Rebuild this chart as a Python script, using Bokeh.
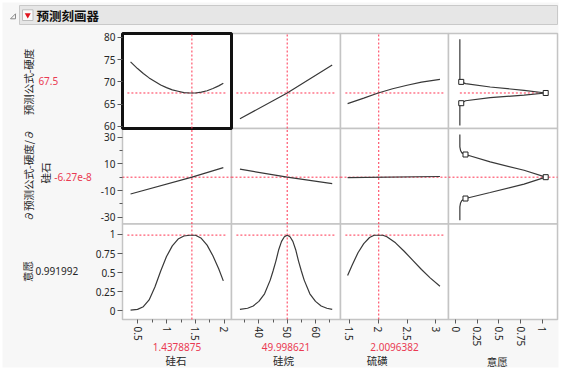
from bokeh.plotting import figure
from bokeh.models import Range1d, LinearAxis, FixedTicker, PrintfTickFormatter
from bokeh.core.properties import value
from bokeh.embed import file_html
from bokeh.resources import INLINE

# ---------------- data ----------------
title_text = "预测刻画器"
factor_names = ["硅石", "硅烷", "硫磺"]
factor_values = [1.4378875, 49.998621, 2.0096382]
factor_value_labels = ["1.4378875", "49.998621", "2.0096382"]
desir_axis_name = "意愿"

resp_name = "预测公式-硬度"
resp_value = 67.5
resp_value_label = "67.5"
deriv_name_1 = "∂预测公式-硬度/∂"
deriv_name_2 = "硅石"
deriv_value = -6.27e-8
deriv_value_label = "-6.27e-8"
desir_name = "意愿"
desir_value = 0.991992
desir_value_label = "0.991992"

# axis limits and ticks
x_limits = [(0.241, 2.121), (30.32, 68.83), (1.347, 3.218), (-0.081, 1.176)]
x_ticks = [[0.5, 1, 1.5, 2], [40, 50, 60], [1.5, 2, 2.5, 3], [0, 0.25, 0.5, 0.75, 1]]
x_minor = [[0.75, 1.25, 1.75], [35, 45, 55, 65], [], []]
y_limits = [(59.5, 80.9), (-35.1, 36.5), (-0.118, 1.138)]
y_ticks = [[60, 65, 70, 75, 80], [-30, -10, 10, 30], [0, 0.25, 0.5, 0.75, 1]]
y_minor = [[], [-20, 0, 20], []]

# column 1: 硅石
si_x = [0.38, 0.5, 0.6, 0.7, 0.8, 0.9, 1.0, 1.1, 1.2, 1.3, 1.4, 1.5, 1.6, 1.7, 1.8, 1.9, 1.98]
si_hard = [74.5, 73.0, 71.9, 70.9, 70.1, 69.3, 68.7, 68.2, 67.9, 67.6, 67.5, 67.5, 67.7, 68.0, 68.5, 69.1, 69.7]
si_desir = [0.005, 0.015, 0.05, 0.14, 0.31, 0.52, 0.71, 0.85, 0.94, 0.98, 0.99, 0.99, 0.95, 0.86, 0.72, 0.55, 0.39]
si_dx = [0.38, 1.44, 1.98]
si_deriv = [-12.6, 0.0, 7.2]

# column 2: 硅烷
sl_hx = [33.3, 50.0, 65.9]
sl_hard = [61.7, 67.5, 73.8]
sl_deriv = [6.0, 0.0, -4.8]
sl_x = [33.3, 36, 38, 40, 42, 44, 45, 46, 47, 48, 49, 50, 51, 52, 53, 54, 55, 56, 58, 60, 62, 64, 65.9]
sl_desir = [0.015, 0.03, 0.06, 0.12, 0.22, 0.40, 0.52, 0.65, 0.80, 0.91, 0.97, 0.99, 0.97, 0.91, 0.80, 0.65, 0.52, 0.40, 0.22, 0.12, 0.06, 0.03, 0.015]

# column 3: 硫磺
su_hx = [1.47, 1.75, 2.0, 2.25, 2.5, 2.75, 3.07]
su_hard = [65.1, 66.35, 67.5, 68.45, 69.25, 69.95, 70.55]
su_dx = [1.47, 3.07]
su_deriv = [-0.3, 0.5]
su_x = [1.47, 1.55, 1.65, 1.75, 1.85, 1.93, 2.0, 2.08, 2.15, 2.3, 2.45, 2.6, 2.75, 2.9, 3.07]
su_desir = [0.46, 0.60, 0.76, 0.88, 0.96, 0.99, 0.99, 0.99, 0.97, 0.89, 0.78, 0.66, 0.54, 0.43, 0.32]

# column 4: desirability function
df_d = [0.05, 0.05, 0.066, 0.115, 0.40, 0.79, 1.04, 0.79, 0.40, 0.115, 0.066, 0.05, 0.05]
df_hard = [79.6, 70.5, 70.0, 69.6, 68.85, 68.1, 67.5, 67.0, 66.45, 65.75, 65.2, 64.7, 60.2]
df_pt_d = [0.066, 1.04, 0.066]
df_pt_hard = [70.0, 67.5, 65.2]
dd_d = [0.05, 0.05, 0.058, 0.073, 0.115, 0.40, 0.79, 1.04, 0.79, 0.40, 0.115, 0.073, 0.058, 0.05, 0.05]
dd_deriv = [32.0, 22.7, 20.0, 18.2, 17.0, 11.5, 5.2, 0.0, -5.2, -11.5, -16.0, -17.5, -19.3, -22.3, -32.3]
dd_pt_d = [0.115, 1.04, 0.115]
dd_pt_deriv = [17.0, 0.0, -16.0]

# ---------------- style / layout ----------------
BG = "#f7f7f7"
PANEL_LINE = "#c4c4c4"
CURVE = "#383838"
RED = "#ff3350"
RED_TXT = "#ea3a52"
TXT = "#262626"
NUM_FONT = "Noto Sans"
CJK_FONT = "Noto Sans CJK SC"
NUM_SIZE = "10px"
CJK_SIZE = "10.5px"
VERT = 1.5707963

W, H = 560, 368                      # canvas; default ranges are canvas pixels (origin bottom-left)
col_px = [(122, 231), (231, 340), (340, 448), (448, 557)]
row_px = [(240, 335), (144.5, 240), (49, 144.5)]
AXIS_X = 122
AXIS_Y = 49


def ext_range(lo, hi, a, b, total):
    s = (hi - lo) / (b - a)
    start = lo - a * s
    return Range1d(start, start + total * s)


p = figure(width=W, height=H, x_range=Range1d(0, W), y_range=Range1d(0, H),
           x_axis_type=None, y_axis_type=None,
           toolbar_location=None, output_backend="svg", min_border=0,
           background_fill_color="white", border_fill_color="white", outline_line_color=None)
p.extra_x_ranges = {f"c{j}": ext_range(*x_limits[j], *col_px[j], W) for j in range(4)}
p.extra_y_ranges = {f"r{i}": ext_range(*y_limits[i], *row_px[i], H) for i in range(3)}


def rn(i, j):
    return dict(x_range_name=f"c{j}", y_range_name=f"r{i}")


def text(x, y, s, font, size, color, angle=0.0, align="center", bold=False):
    p.text(x=[x], y=[y], text=[s], text_font=value(font), text_font_size=value(size),
           text_color=color, text_align=align, text_baseline="middle", angle=angle,
           text_font_style="bold" if bold else "normal")


# page background and header
p.quad(left=[2], right=[558], bottom=[1], top=[366], fill_color=BG, line_color=None)
p.quad(left=[19], right=[557], bottom=[344], top=[363], fill_color="#e6e6e6", line_color="#c9c9c9")
p.quad(left=[22], right=[32.5], bottom=[348], top=[358.7], fill_color="#fafafa", line_color="#bcbcbc")
p.scatter(x=[27.25], y=[353.4], marker="inverted_triangle", size=6, fill_color="#e0141e", line_color=None)
p.patch(x=[10, 15, 15], y=[349.7, 349.7, 354.7], fill_color=None, line_color="#8a8a8a", line_width=1)
text(36, 353.5, title_text, CJK_FONT, "12.5px", "#111111", align="left", bold=True)

# panel backgrounds and borders
for i in range(3):
    for j in range(4):
        p.quad(left=[x_limits[j][0]], right=[x_limits[j][1]],
               bottom=[y_limits[i][0]], top=[y_limits[i][1]],
               fill_color="white", line_color=PANEL_LINE, line_width=1.5, **rn(i, j))
p.quad(left=[x_limits[0][0]], right=[x_limits[0][1]],
       bottom=[y_limits[0][0]], top=[y_limits[0][1]],
       fill_color=None, line_color="#111111", line_width=3, **rn(0, 0))


def red_seg(i, j, x0, y0, x1, y1):
    p.segment(x0=[x0], y0=[y0], x1=[x1], y1=[y1], line_color=RED,
              line_dash="2 2", line_width=1, **rn(i, j))


def curve(i, j, xs, ys):
    p.line(xs, ys, line_color=CURVE, line_width=1.2, **rn(i, j))


hard_data = [(si_x, si_hard), (sl_hx, sl_hard), (su_hx, su_hard)]
deriv_data = [(si_dx, si_deriv), (sl_hx, sl_deriv), (su_dx, su_deriv)]
desir_data = [(si_x, si_desir), (sl_x, sl_desir), (su_x, su_desir)]

for j in range(3):
    lo, hi = x_limits[j]
    pad = 0.045 * (hi - lo)
    for i in range(3):
        red_seg(i, j, factor_values[j], y_limits[i][0], factor_values[j], y_limits[i][1])
    red_seg(0, j, lo + pad, resp_value, hi - pad, resp_value)
    red_seg(1, j, lo, deriv_value, hi, deriv_value)
    red_seg(2, j, lo + pad, desir_value, hi - pad, desir_value)
    curve(0, j, *hard_data[j])
    curve(1, j, *deriv_data[j])
    curve(2, j, *desir_data[j])

red_seg(0, 3, min(df_d), resp_value, max(df_d), resp_value)
red_seg(1, 3, x_limits[3][0], deriv_value, x_limits[3][1], deriv_value)
curve(0, 3, df_d, df_hard)
curve(1, 3, dd_d, dd_deriv)
p.scatter(df_pt_d, df_pt_hard, marker="square", size=5, fill_color="white",
          line_color="#222222", line_width=1, **rn(0, 3))
p.scatter(dd_pt_d, dd_pt_deriv, marker="square", size=5, fill_color="white",
          line_color="#222222", line_width=1, **rn(1, 3))


def style_axis(ax, side):
    ax.axis_line_color = None
    ax.major_tick_line_color = "#5a5a5a"
    ax.minor_tick_line_color = "#5a5a5a"
    ax.major_tick_in = 0
    ax.minor_tick_in = 0
    ax.minor_tick_out = 3
    ax.major_label_text_font = NUM_FONT
    ax.major_label_text_font_size = NUM_SIZE
    ax.major_label_text_color = TXT
    if side == "left":
        ax.major_tick_out = 5
        ax.major_label_standoff = 2
    else:
        ax.major_tick_out = 4
        ax.major_label_standoff = 3
        ax.major_label_orientation = "vertical"


for i in range(3):
    ax = LinearAxis(y_range_name=f"r{i}", fixed_location=AXIS_X, bounds=y_limits[i],
                    ticker=FixedTicker(ticks=y_ticks[i], minor_ticks=y_minor[i]),
                    formatter=PrintfTickFormatter(format="%g"))
    style_axis(ax, "left")
    p.add_layout(ax, "left")
for j in range(4):
    ax = LinearAxis(x_range_name=f"c{j}", fixed_location=AXIS_Y, bounds=x_limits[j],
                    ticker=FixedTicker(ticks=x_ticks[j], minor_ticks=x_minor[j]),
                    formatter=PrintfTickFormatter(format="%g"))
    style_axis(ax, "below")
    p.add_layout(ax, "below")

# row labels
text(28, 286.5, resp_name, CJK_FONT, CJK_SIZE, TXT, angle=VERT)
text(47.8, 287.5, resp_value_label, NUM_FONT, NUM_SIZE, RED_TXT)
text(28, 193, deriv_name_1, CJK_FONT, CJK_SIZE, TXT, angle=VERT)
text(45, 195.5, deriv_name_2, CJK_FONT, CJK_SIZE, TXT, angle=VERT)
text(72.5, 192, deriv_value_label, NUM_FONT, NUM_SIZE, RED_TXT)
text(26.7, 97, desir_name, CJK_FONT, CJK_SIZE, TXT, angle=VERT)
text(56.3, 97.5, desir_value_label, NUM_FONT, NUM_SIZE, TXT)

# bottom labels
name_x = [175.5, 283, 376.7, 496.7]
for j in range(3):
    text((col_px[j][0] + col_px[j][1]) / 2, 21.7, factor_value_labels[j], NUM_FONT, NUM_SIZE, RED_TXT)
    text(name_x[j], 8, factor_names[j], CJK_FONT, CJK_SIZE, TXT)
text(name_x[3], 7, desir_axis_name, CJK_FONT, CJK_SIZE, TXT)

open("out.html", "w").write(file_html(p, INLINE))
